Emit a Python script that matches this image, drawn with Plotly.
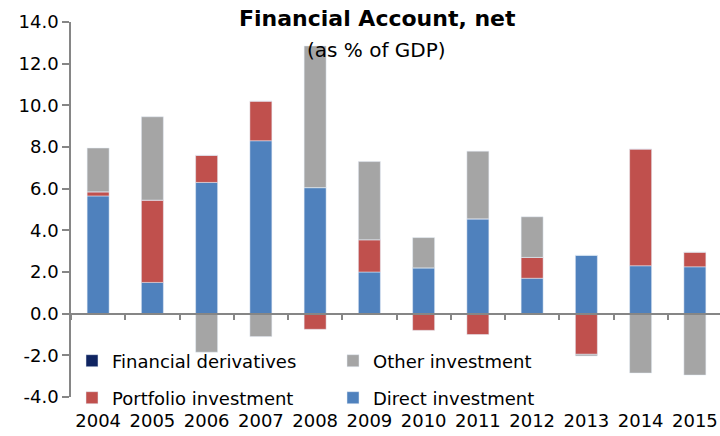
import plotly.graph_objects as go

years = ["2004", "2005", "2006", "2007", "2008", "2009", "2010", "2011", "2012", "2013", "2014", "2015"]
direct = [5.65, 1.50, 6.30, 8.30, 6.05, 2.00, 2.20, 4.55, 1.70, 2.80, 2.30, 2.25]
portfolio = [0.20, 3.95, 1.30, 1.90, -0.75, 1.55, -0.80, -1.00, 1.00, -1.95, 5.60, 0.70]
derivatives = [0.0, 0.0, 0.0, 0.0, 0.0, 0.0, 0.0, 0.0, 0.0, 0.0, 0.0, 0.0]
other = [2.10, 4.00, -1.85, -1.10, 6.80, 3.75, 1.45, 3.25, 1.95, -0.08, -2.85, -2.95]

y_ticks = [-4, -2, 0, 2, 4, 6, 8, 10, 12, 14]
y_tick_labels = ["-4.0", "-2.0", "0.0", "2.0", "4.0", "6.0", "8.0", "10.0", "12.0", "14.0"]

FONT = "DejaVu Sans"
AXIS_COLOR = "#868686"

fig = go.Figure()
fig.add_trace(go.Bar(x=years, y=direct, name="Direct investment", marker_color="#4F81BD",
                     legend="legend4"))
fig.add_trace(go.Bar(x=years, y=portfolio, name="Portfolio investment", marker_color="#C0504D",
                     legend="legend3"))
fig.add_trace(go.Bar(x=years, y=derivatives, name="Financial derivatives", marker_color="#0F2461",
                     legend="legend"))
fig.add_trace(go.Bar(x=years, y=other, name="Other investment", marker_color="#A5A5A5",
                     legend="legend2"))

W, H = 720, 436
ml, mr, mt, mb = 71, 0, 22, 39
pw = W - ml - mr
ph = H - mt - mb
cat_px = 54.25
xmax = -0.5 + pw / cat_px


def px_x(p):
    return (p - ml) / pw


def px_y(p):
    return (H - mb - p) / ph


legend_common = dict(orientation="h", xanchor="left", yanchor="middle",
                     font=dict(family=FONT, size=18, color="#000000"),
                     bgcolor="rgba(0,0,0,0)")

fig.update_layout(
    width=W, height=H,
    margin=dict(l=ml, r=mr, t=mt, b=mb),
    paper_bgcolor="white", plot_bgcolor="white",
    barmode="relative", bargap=0.595,
    font=dict(family=FONT, size=18, color="#000000"),
    showlegend=True,
    legend=dict(x=px_x(72), y=px_y(361), **legend_common),
    legend2=dict(x=px_x(333), y=px_y(361), **legend_common),
    legend3=dict(x=px_x(72), y=px_y(398), **legend_common),
    legend4=dict(x=px_x(333), y=px_y(398), **legend_common),
    xaxis=dict(range=[-0.5, xmax], showline=False, showgrid=False, zeroline=False,
               ticks="", ticklabelstandoff=11, automargin=False,
               tickfont=dict(family=FONT, size=18, color="#000000")),
    xaxis2=dict(overlaying="x", anchor="free", position=4 / 18, range=[-0.5, xmax],
                showline=True, linecolor=AXIS_COLOR, linewidth=1.5, ticks="outside",
                tickson="boundaries", ticklen=6, tickcolor=AXIS_COLOR, tickwidth=1.5,
                showticklabels=False, showgrid=False, zeroline=False,
                type="category", categoryorder="array", categoryarray=years),
    yaxis=dict(range=[-4, 14], tickvals=y_ticks, ticktext=y_tick_labels,
               showline=True, linecolor=AXIS_COLOR, linewidth=1.5, ticks="outside",
               ticklen=7, tickcolor=AXIS_COLOR, tickwidth=1.5, showgrid=False, zeroline=False,
               automargin=False, tickfont=dict(family=FONT, size=18, color="#000000")),
    annotations=[
        dict(text="<b>Financial Account, net</b>", xref="paper", yref="paper",
             x=px_x(377), y=px_y(19), xanchor="center", yanchor="middle", showarrow=False,
             font=dict(family=FONT, size=22, color="#000000")),
        dict(text="(as % of GDP)", xref="paper", yref="paper",
             x=px_x(376), y=px_y(50), xanchor="center", yanchor="middle", showarrow=False,
             font=dict(family=FONT, size=20, color="#000000")),
    ],
)

# invisible trace to activate the zero-line axis with boundary ticks
fig.add_trace(go.Scatter(x=years, y=[0] * len(years), xaxis="x2", mode="lines",
                         line=dict(width=0), showlegend=False, hoverinfo="skip"))

fig.write_html("out.html", config={"displayModeBar": False},
               post_script="document.body.style.margin='0px';")
